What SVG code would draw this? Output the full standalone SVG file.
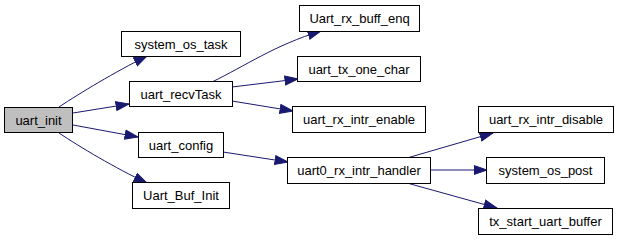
<svg xmlns="http://www.w3.org/2000/svg" width="619" height="240" viewBox="0 0 619 240">
  <style>
    .node rect { fill: #ffffff; stroke: #000000; stroke-width: 1; }
    .node.root rect { fill: #bfbfbf; }
    .node text { font-family: "Liberation Sans", Arial, sans-serif; font-size: 13px; fill: #000000; text-anchor: middle; }
    .edges path { fill: none; stroke: #191970; stroke-width: 1; marker-end: url(#arrow); }
  </style>
  <defs>
    <marker id="arrow" markerUnits="userSpaceOnUse" markerWidth="15" markerHeight="12" refX="13.5" refY="6" orient="auto">
      <path d="M0.5,1.5 L13.5,6 L0.5,10.5 Z" fill="#191970" stroke="#191970" stroke-width="1"/>
    </marker>
  </defs>

  <g class="edges">
    <path d="M59,107 C80,93 115,72 147,56"/>
    <path d="M73,113 L129,104"/>
    <path d="M73,125 L138,137"/>
    <path d="M59,133 C80,147 115,168 147,183"/>
    <path d="M212,82 C245,66 275,45 321,31"/>
    <path d="M232,87 L298,79"/>
    <path d="M232,101 L293,111"/>
    <path d="M223,152 L288,162"/>
    <path d="M407,158 L493,133"/>
    <path d="M431,170 L487,170"/>
    <path d="M407,183 L497,208"/>
  </g>

  <g id="uart_init" class="node root">
    <rect x="4.5" y="107.5" width="68" height="25"/>
    <text x="38.5" y="124.5">uart_init</text>
  </g>
  <g id="system_os_task" class="node">
    <rect x="121.5" y="31.5" width="119" height="25"/>
    <text x="181" y="48.5">system_os_task</text>
  </g>
  <g id="uart_recvTask" class="node">
    <rect x="129.5" y="81.5" width="103" height="25"/>
    <text x="181" y="98.5">uart_recvTask</text>
  </g>
  <g id="uart_config" class="node">
    <rect x="138.5" y="132.5" width="85" height="25"/>
    <text x="181" y="149.5">uart_config</text>
  </g>
  <g id="Uart_Buf_Init" class="node">
    <rect x="132.5" y="182.5" width="97" height="26"/>
    <text x="181" y="200">Uart_Buf_Init</text>
  </g>
  <g id="Uart_rx_buff_enq" class="node">
    <rect x="299.5" y="5.5" width="120" height="26"/>
    <text x="359.5" y="23">Uart_rx_buff_enq</text>
  </g>
  <g id="uart_tx_one_char" class="node">
    <rect x="297.5" y="56.5" width="123" height="25"/>
    <text x="359" y="73.5">uart_tx_one_char</text>
  </g>
  <g id="uart_rx_intr_enable" class="node">
    <rect x="292.5" y="106.5" width="133" height="26"/>
    <text x="359" y="124">uart_rx_intr_enable</text>
  </g>
  <g id="uart0_rx_intr_handler" class="node">
    <rect x="287.5" y="157.5" width="143" height="26"/>
    <text x="359" y="175">uart0_rx_intr_handler</text>
  </g>
  <g id="uart_rx_intr_disable" class="node">
    <rect x="478.5" y="106.5" width="135" height="26"/>
    <text x="546" y="124">uart_rx_intr_disable</text>
  </g>
  <g id="system_os_post" class="node">
    <rect x="486.5" y="157.5" width="118" height="26"/>
    <text x="545.5" y="175">system_os_post</text>
  </g>
  <g id="tx_start_uart_buffer" class="node">
    <rect x="478.5" y="208.5" width="134" height="26"/>
    <text x="545.5" y="226">tx_start_uart_buffer</text>
  </g>
</svg>
